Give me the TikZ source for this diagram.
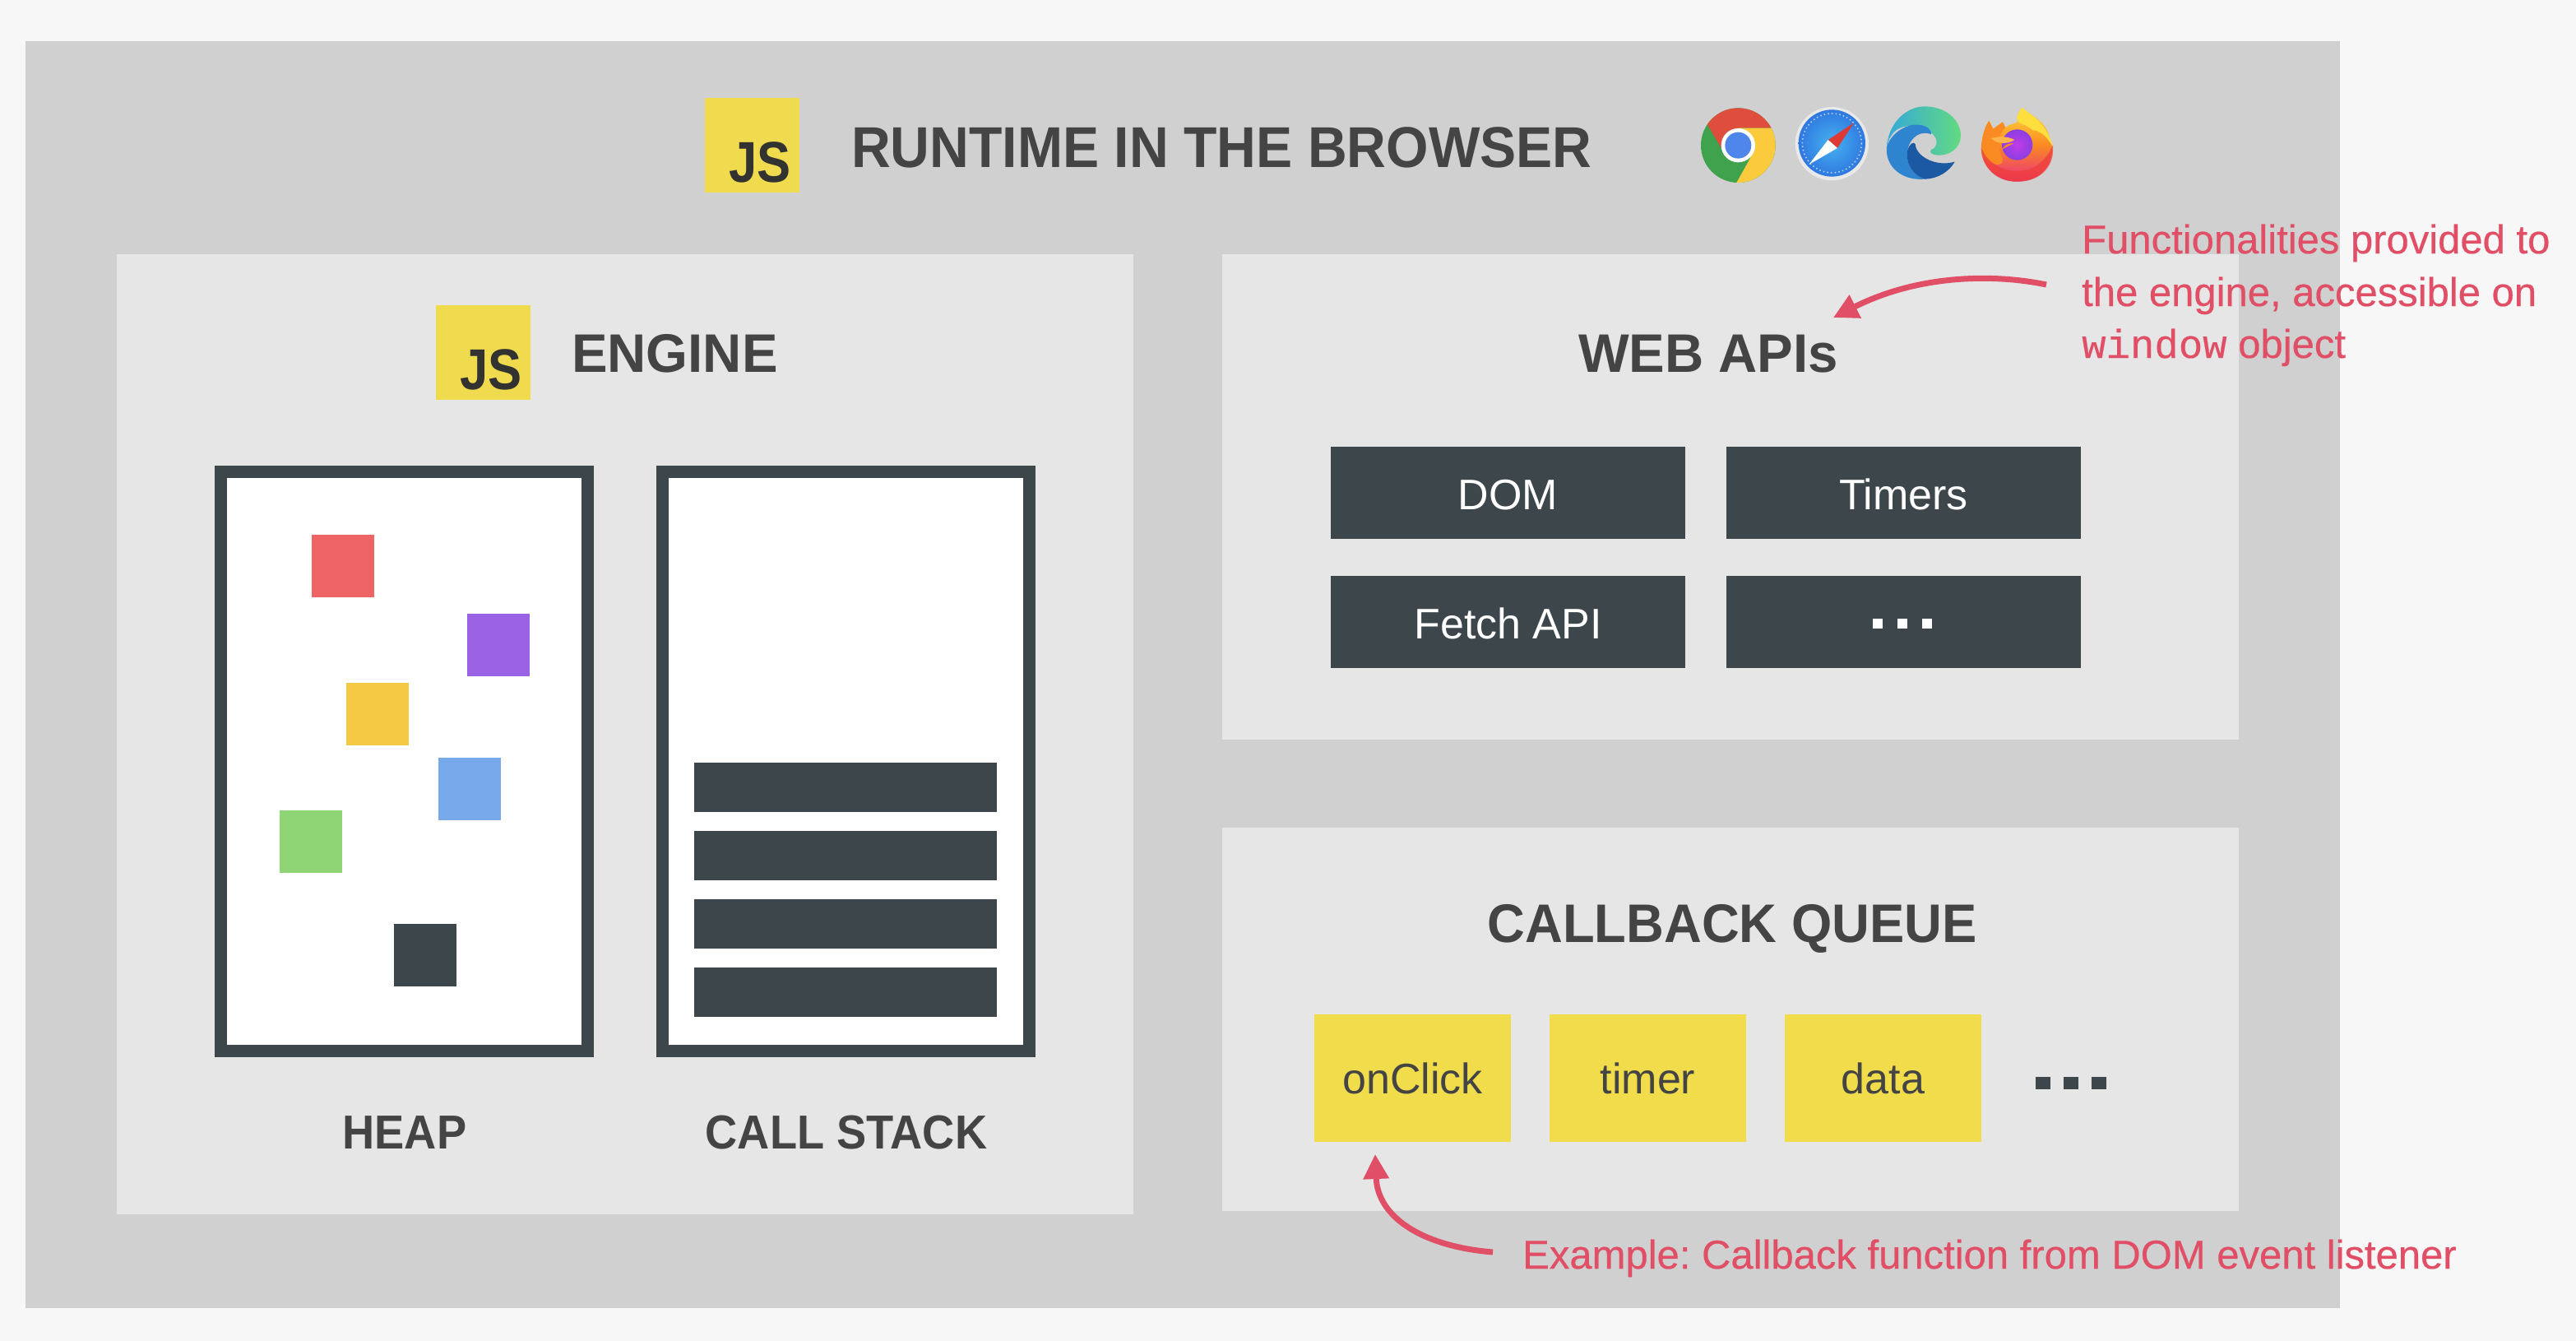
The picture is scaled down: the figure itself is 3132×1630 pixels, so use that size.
\documentclass[tikz,border=0pt]{standalone}
\usepackage{fontspec}
\setmainfont{Liberation Sans}
\newfontfamily\wmono[FakeBold=0.4]{Liberation Mono}
\newfontfamily\titlefont[FakeStretch=0.945]{Liberation Sans Bold}
\newfontfamily\headfont[FakeStretch=0.96]{Liberation Sans Bold}
\newfontfamily\headwide[FakeStretch=0.99]{Liberation Sans Bold}
\newfontfamily\memfont[FakeStretch=0.935]{Liberation Sans Bold}
\newfontfamily\jsfont[FakeStretch=0.88]{Liberation Sans Bold}
\newfontfamily\notefont[FakeBold=0.4]{Liberation Sans}
\usetikzlibrary{arrows.meta,shadings}
\definecolor{pagebg}{HTML}{F7F7F7}
\definecolor{outerbg}{HTML}{D0D0D0}
\definecolor{panelbg}{HTML}{E6E6E6}
\definecolor{slate}{HTML}{3C464B}
\definecolor{jsyellow}{HTML}{F0DB4F}
\definecolor{qyellow}{HTML}{F1DC4C}
\definecolor{ink}{HTML}{444444}
\definecolor{jsink}{HTML}{323330}
\definecolor{annot}{HTML}{E04F66}
\definecolor{crgreen}{HTML}{3FA34D}
\definecolor{crred}{HTML}{DF4D3C}
\definecolor{cryellow}{HTML}{FBCB3D}
\definecolor{crblue}{HTML}{4F86EC}
\definecolor{sfrim}{HTML}{E9E9E9}
\definecolor{sflight}{HTML}{46B2F0}
\definecolor{sfdark}{HTML}{2F78E0}
\definecolor{sfred}{HTML}{DD3A36}
\definecolor{edteal}{HTML}{35A9DA}
\definecolor{edgreen}{HTML}{62DA80}
\definecolor{edmid}{HTML}{2E84CF}
\definecolor{eddark}{HTML}{1B5AA2}
\definecolor{fxyellow}{HTML}{FFDF3E}
\definecolor{fxorange}{HTML}{FA8A22}
\definecolor{fxred}{HTML}{EE3E3A}
\definecolor{fxpink}{HTML}{EA2C84}
\definecolor{fxpurple}{HTML}{8A3FE0}
\definecolor{fxviolet}{HTML}{C23BE8}
\definecolor{fxlight}{HTML}{FDB44A}
\definecolor{objred}{HTML}{EE6363}
\definecolor{objpurple}{HTML}{9B62E6}
\definecolor{objyellow}{HTML}{F4CA45}
\definecolor{objblue}{HTML}{78A9EA}
\definecolor{objgreen}{HTML}{8FD475}
\newcommand{\fs}[1]{\fontsize{#1}{#1}\selectfont}
\frenchspacing
\tikzset{
  panel/.style={fill=panelbg,draw=none,anchor=north west,inner sep=0pt,outer sep=0pt},
  jsbox/.style={fill=jsyellow,minimum width=115,minimum height=115,inner sep=0pt},
  jstext/.style={text=jsink,font=\jsfont\fs{70},anchor=base east,inner sep=0pt},
  head/.style={text=ink,inner sep=0pt,anchor=base,font=\headfont\fs{66}},
  memframe/.style={draw=slate,line width=15,fill=white,minimum width=446,minimum height=704,inner sep=0pt},
  memlabel/.style={text=ink,inner sep=0pt,anchor=base,font=\memfont\fs{58}},
  obj/.style={minimum width=76,minimum height=76,inner sep=0pt},
  stackbar/.style={fill=slate,minimum width=368,minimum height=60,inner sep=0pt},
  apibox/.style={fill=slate,text=white,minimum width=431,minimum height=112,inner sep=0pt,font=\fs{52},text height=40,text depth=0},
  qbox/.style={fill=qyellow,text=ink,minimum width=239,minimum height=155,inner sep=0pt,font=\fs{52},text height=37,text depth=0},
  note/.style={text=annot,inner sep=0pt,anchor=base west,font=\notefont\fs{49}},
  notearrow/.style={draw=annot,line width=7,-{Triangle[length=30,width=30]}},
  dot/.style={minimum width=12,minimum height=12,inner sep=0pt},
  qdot/.style={fill=slate,minimum width=18,minimum height=15,inner sep=0pt},
}
\begin{document}
\begin{tikzpicture}[x=1pt,y=-1pt]
\useasboundingbox (0,0) rectangle (3132,1630);
\fill[pagebg] (0,0) rectangle (3132,1630);
\node[fill=outerbg,anchor=north west,inner sep=0,minimum width=2814,minimum height=1540] (runtime) at (31,50) {};
\node[panel,minimum width=1236,minimum height=1167] (engine) at (142,309) {};
\node[panel,minimum width=1236,minimum height=590] (webapis) at (1486,309) {};
\node[panel,minimum width=1236,minimum height=466] (cbq) at (1486,1006) {};

% title row
\node[jsbox] (jstop) at (914,176.5) {};
\node[jstext] (jstoptxt) at (962,221) {JS};
\node[head,anchor=base west,font=\titlefont\fs{70}] (title) at (1035,203) {RUNTIME IN THE BROWSER};

\begin{scope}[shift={(2040,100)},x=0.3333pt,y=-0.3333pt]
% chrome
\begin{scope}
\clip (220,230) circle[radius=136];
\fill[crgreen] (60,60) rectangle (380,400);
\fill[crred] (60,60) -- (380,60) -- (380,167) -- (220,167) -- (158,240) -- (70,90) -- cycle;
\fill[cryellow] (220,167) -- (380,167) -- (380,400) -- (195,400) -- (265,275) -- cycle;
\end{scope}
\fill[white] (220,230) circle[radius=62];
\fill[crblue] (220,230) circle[radius=48];
% safari
\fill[sfrim] (562,224) circle[radius=134];
\shade[inner color=sflight,outer color=sfdark] (562,222) circle[radius=122];
\draw[white,opacity=0.65,line width=1.6pt,dash pattern=on 1.5pt off 3.2pt] (562,222) circle[radius=108];
\fill[sfred] (642,148) -- (548,210) -- (582,240) -- cycle;
\fill[white] (478,300) -- (548,210) -- (582,240) -- cycle;
% edge
\shade[left color=edteal,right color=edgreen] (762,235) .. controls (770,140) and (840,88) .. (900,88) .. controls (980,88) and (1032,140) .. (1032,195) .. controls (1032,240) and (990,268) .. (950,266) .. controls (925,265) and (915,255) .. (925,245) .. controls (945,240) and (950,215) .. (935,195) .. controls (900,150) and (820,150) .. (790,180) .. controls (775,195) and (765,215) .. (762,235) -- cycle;
\fill[edmid] (762,235) .. controls (780,180) and (840,150) .. (880,155) .. controls (910,158) and (925,175) .. (925,190) .. controls (890,175) and (850,195) .. (838,245) .. controls (828,300) and (860,340) .. (900,353) .. controls (820,360) and (755,310) .. (762,235) -- cycle;
\fill[eddark] (838,245) .. controls (845,225) and (860,215) .. (866,225) .. controls (868,270) and (940,310) .. (1010,290) .. controls (990,325) and (950,352) .. (900,353) .. controls (860,340) and (828,300) .. (838,245) -- cycle;
% firefox
\shade[top color=fxyellow,bottom color=fxpink,middle color=fxorange] (1255,92) .. controls (1300,130) and (1340,140) .. (1355,200) .. controls (1385,260) and (1350,360) .. (1240,362) .. controls (1150,365) and (1095,290) .. (1108,220) .. controls (1112,190) and (1120,160) .. (1135,140) -- (1150,170) -- (1185,145) -- (1195,165) .. controls (1215,150) and (1240,150) .. (1240,140) .. controls (1230,120) and (1250,105) .. (1255,92) -- cycle;
\fill[fxorange] (1135,140) -- (1150,170) -- (1185,145) -- (1195,165) .. controls (1170,190) and (1160,220) .. (1180,270) .. controls (1200,310) and (1150,310) .. (1112,270) .. controls (1102,220) and (1115,170) .. (1135,140) -- cycle;
\fill[fxyellow] (1255,92) .. controls (1300,130) and (1345,150) .. (1368,235) .. controls (1345,195) and (1320,175) .. (1295,175) .. controls (1265,150) and (1240,150) .. (1240,140) .. controls (1230,120) and (1250,105) .. (1255,92) -- cycle;
\fill[fxred,opacity=0.75] (1108,240) .. controls (1130,300) and (1200,335) .. (1270,320) .. controls (1320,310) and (1350,270) .. (1368,230) .. controls (1375,310) and (1320,362) .. (1240,362) .. controls (1160,365) and (1105,300) .. (1108,240) -- cycle;
\shade[inner color=fxviolet,outer color=fxpurple] (1238,228) circle[radius=56];
\fill[fxlight] (1143,205) .. controls (1170,195) and (1205,197) .. (1228,210) .. controls (1205,225) and (1170,228) .. (1143,205) -- cycle;
\fill[fxorange] (1183,245) .. controls (1190,228) and (1205,222) .. (1225,222) .. controls (1212,230) and (1198,236) .. (1183,245) -- cycle;
\end{scope}

% engine
\node[jsbox] (jsengine) at (587.5,428.5) {};
\node[jstext] (jsenginetxt) at (635,473) {JS};
\node[head,anchor=base west,font=\headwide\fs{66}] (enginelbl) at (695,452) {ENGINE};
\node[memframe] (heap) at (491.5,925.5) {};
\node[memframe] (stack) at (1028.5,925.5) {};
\node[memlabel] (heaplbl) at (492,1396) {HEAP};
\node[memlabel] (stacklbl) at (1029,1396) {CALL STACK};
\node[obj,fill=objred] (o1) at (417,688) {};
\node[obj,fill=objpurple] (o2) at (606,784) {};
\node[obj,fill=objyellow] (o3) at (459,867.5) {};
\node[obj,fill=objblue] (o4) at (571,959) {};
\node[obj,fill=objgreen] (o5) at (378,1022.5) {};
\node[obj,fill=slate] (o6) at (517,1161) {};
\node[stackbar] (b1) at (1028,957) {};
\node[stackbar] (b2) at (1028,1040) {};
\node[stackbar] (b3) at (1028,1123) {};
\node[stackbar] (b4) at (1028,1206) {};

% web apis
\node[head,font=\headwide\fs{66}] (webhead) at (2077,452) {WEB APIs};
\node[apibox] (dom) at (1833.5,599) {DOM};
\node[apibox] (timers) at (2314.5,599) {Timers};
\node[apibox] (fetch) at (1833.5,756) {Fetch API};
\node[apibox] (more) at (2314.5,756) {};
\node[dot,fill=white] (m1) at (2283,758) {};
\node[dot,fill=white] (m2) at (2313,758) {};
\node[dot,fill=white] (m3) at (2343,758) {};

% callback queue
\node[head] (cbhead) at (2106,1145) {CALLBACK QUEUE};
\node[qbox] (onclick) at (1717.5,1310.5) {onClick};
\node[qbox] (timer) at (2003.5,1310.5) {timer};
\node[qbox] (data) at (2289.5,1310.5) {data};
\node[qdot] (q1) at (2484,1316) {};
\node[qdot] (q2) at (2518,1316) {};
\node[qdot] (q3) at (2552,1316) {};

% annotations
\node[note] (n1) at (2531,308) {Functionalities provided to};
\node[note] (n2) at (2531,372) {the engine, accessible on};
\node[note] (n3) at (2531,435) {{\wmono window} object};
\node[note] (n4) at (1851,1542) {Example: Callback function from DOM event listener};
\coordinate (a1s) at (2488,346);
\coordinate (a1e) at (2229,386);
\coordinate (a2s) at (1815,1522);
\coordinate (a2e) at (1672,1403);
\draw[notearrow] (a1s) .. controls (2420,332) and (2330,335) .. (a1e);
\draw[notearrow] (a2s) .. controls (1730,1515) and (1675,1480) .. (a2e);
\end{tikzpicture}
\end{document}
